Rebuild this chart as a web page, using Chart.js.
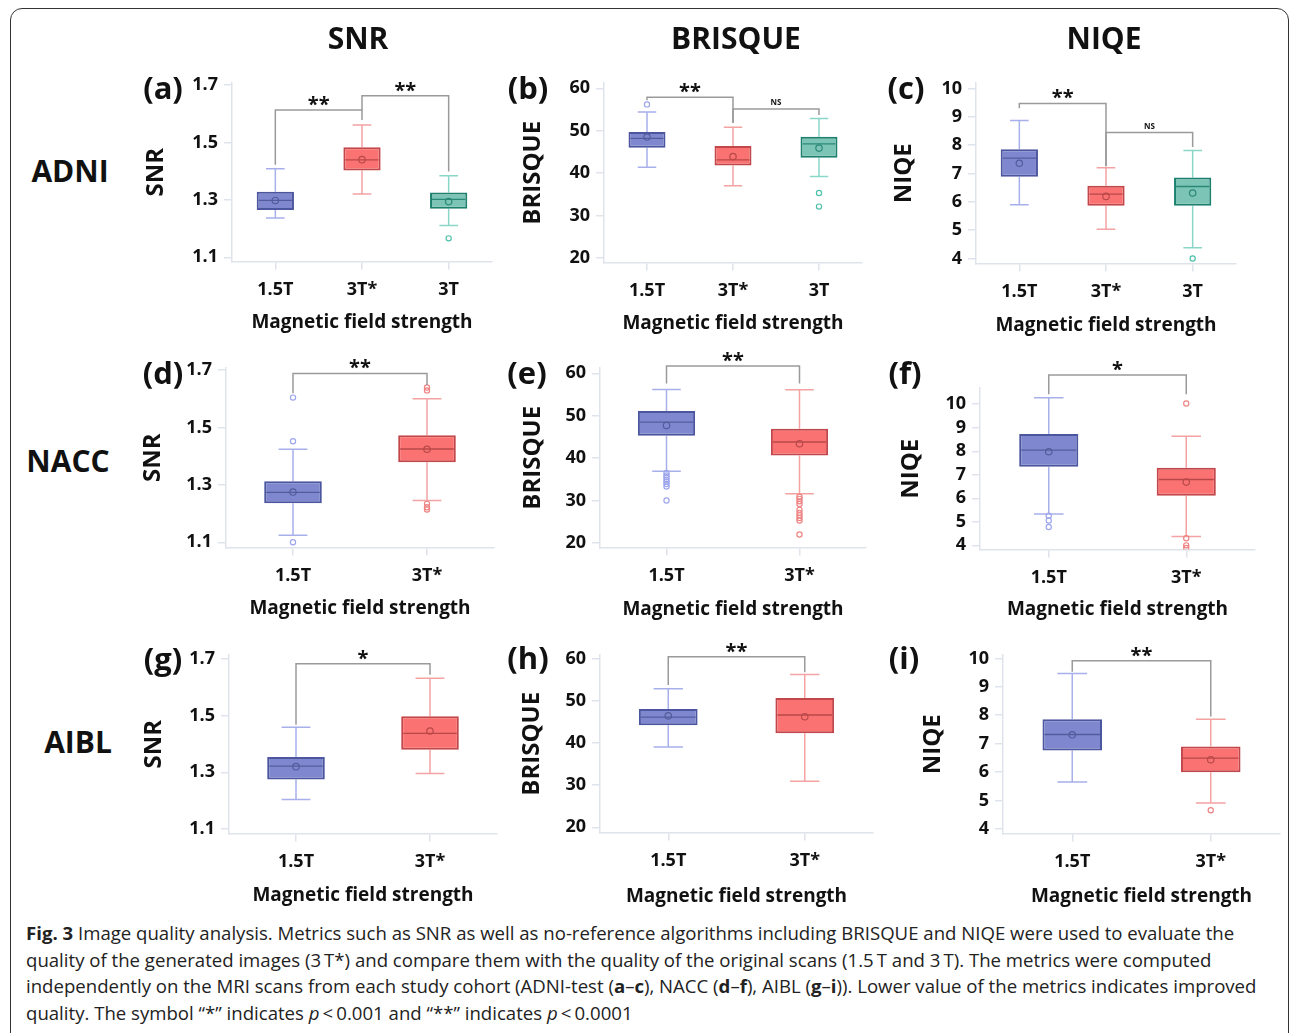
<!DOCTYPE html>
<html lang="en">
<head>
<meta charset="UTF-8">
<title>Fig. 3 Image quality analysis</title>
<script src="https://cdn.jsdelivr.net/npm/chart.js"></script>
<style>
    body { margin: 0; background: #fff; font-family: "Open Sans", Arial, sans-serif; }
    #fig { position: relative; width: 1292px; height: 1033px; overflow: hidden; }
    #frame {
        position: absolute; left: 10px; top: 8px; width: 1279px; height: 1040px;
        border: 1.5px solid #333; border-radius: 12px; box-sizing: border-box;
    }
    .lbl {
        position: absolute; font-weight: 700; color: #111; white-space: nowrap;
        transform: translate(-50%, -50%); line-height: 1; z-index: 2;
    }
    .head { font-size: 30px; }
    .letter { font-size: 31px; }
    canvas { position: absolute; }
    #caption {
        position: absolute; left: 26px; top: 920px; font-size: 18.6px; line-height: 26.7px;
        color: #222; white-space: nowrap;
    }
</style>
</head>
<body>
<div id="fig">
    <div id="frame"></div>
    <div id="caption">
        <b>Fig. 3</b> Image quality analysis. Metrics such as SNR as well as no-reference algorithms including BRISQUE and NIQE were used to evaluate the<br>
        quality of the generated images (3&#8201;T*) and compare them with the quality of the original scans (1.5&#8201;T and 3&#8201;T). The metrics were computed<br>
        independently on the MRI scans from each study cohort (ADNI-test (<b>a</b>–<b>c</b>), NACC (<b>d</b>–<b>f</b>), AIBL (<b>g</b>–<b>i</b>)). Lower value of the metrics indicates improved<br>
        quality. The symbol “*” indicates <i>p</i>&#8201;&lt;&#8201;0.001 and “**” indicates <i>p</i>&#8201;&lt;&#8201;0.0001
    </div>
</div>

<script>
    // categories and tick labels
    const cats3 = ['1.5T', '3T*', '3T'];
    const cats2 = ['1.5T', '3T*'];
    const snrTicks = [1.1, 1.3, 1.5, 1.7];
    const brisqueTicks = [20, 30, 40, 50, 60];
    const niqeTicks = [4, 5, 6, 7, 8, 9, 10];

    // box stats per category: [lower whisker, Q1, median, Q3, upper whisker]
    const aBox = [[1.237, 1.265, 1.298, 1.328, 1.408], [1.320, 1.402, 1.439, 1.483, 1.561], [1.211, 1.269, 1.302, 1.326, 1.384]];
    const aMean = [1.298, 1.440, 1.294];
    const aOut = [[], [], [1.166]];
    const aSig = [[0, 1, 1.613, 1.422, 1.578, '**'], [1, 2, 1.663, 1.613, 1.399, '**']];

    const bBox = [[41.4, 46.0, 48.2, 49.7, 54.4], [37.0, 41.8, 43.1, 46.4, 50.8], [39.2, 43.6, 46.9, 48.6, 52.9]];
    const bMean = [48.5, 43.9, 45.9];
    const bOut = [[56.2], [], [35.3, 32.1]];
    const bSig = [[0, 1, 57.9, 57.2, 51.8, '**'], [1, 2, 55.1, 51.8, 53.7, 'NS']];

    const cBox = [[5.90, 6.88, 7.54, 7.85, 8.87], [5.03, 5.86, 6.27, 6.57, 7.20], [4.38, 5.86, 6.54, 6.86, 7.81]];
    const cMean = [7.36, 6.19, 6.31];
    const cOut = [[], [], [4.0]];
    const cSig = [[0, 1, 9.47, 9.30, 7.25, '**'], [1, 2, 8.44, 7.25, 7.93, 'NS']];

    const dBox = [[1.125, 1.236, 1.274, 1.313, 1.424], [1.246, 1.379, 1.425, 1.473, 1.600]];
    const dMean = [1.275, 1.424];
    const dOut = [[1.604, 1.452, 1.100], [1.639, 1.629, 1.234, 1.222, 1.214]];
    const dSig = [[0, 1, 1.688, 1.619, 1.648, '**']];

    const eBox = [[36.9, 45.3, 48.5, 51.1, 56.2], [31.6, 40.6, 43.8, 46.9, 56.1]];
    const eMean = [47.7, 43.4];
    const eOut = [[36.5, 35.9, 35.5, 34.9, 34.4, 33.9, 33.3, 30.0], [30.9, 30.4, 29.8, 29.2, 27.8, 27.1, 26.5, 25.9, 25.3, 22.0]];
    const eSig = [[0, 1, 61.7, 57.6, 57.6, '**']];

    const fBox = [[5.33, 7.34, 8.05, 8.73, 10.28], [4.38, 6.11, 6.80, 7.30, 8.64]];
    const fMean = [7.98, 6.69];
    const fOut = [[5.26, 5.06, 4.78], [10.03, 4.30, 4.0, 3.89]];
    const fSig = [[0, 1, 11.24, 10.42, 10.42, '*']];

    const gBox = [[1.204, 1.274, 1.322, 1.354, 1.459], [1.296, 1.380, 1.438, 1.498, 1.633]];
    const gMean = [1.320, 1.446];
    const gOut = [[], []];
    const gSig = [[0, 1, 1.684, 1.468, 1.645, '*']];

    const hBox = [[39.0, 44.2, 46.1, 48.0, 52.8], [30.9, 42.3, 46.6, 50.6, 56.2]];
    const hMean = [46.4, 46.2];
    const hOut = [[], []];
    const hSig = [[0, 1, 60.4, 53.7, 56.7, '**']];

    const iBox = [[5.65, 6.76, 7.32, 7.86, 9.47], [4.91, 5.99, 6.49, 6.90, 7.86]];
    const iMean = [7.31, 6.43];
    const iOut = [[], [4.65]];
    const iSig = [[0, 1, 9.92, 9.53, 7.95, '**']];

    const palette = [
        { fill: '#7f88cf', border: '#4b569e', whisker: '#a8b0ec', median: '#525c9c', out: '#9ea6ec' },
        { fill: '#fa7272', border: '#c2474a', whisker: '#f4a2a2', median: '#b94848', out: '#ee8484' },
        { fill: '#7cc4b5', border: '#1d7f6e', whisker: '#8ad6c8', median: '#2a8878', out: '#4fc0aa' }
    ];
    const axisCol = '#dfe4ec';
    const ink = '#111';

    // layout: plot rect [left, top, right, bottom], y title centre x, x title centre y
    const panels = [
        { letter: '(a)', lp: [163, 87], cats: cats3, box: aBox, mean: aMean, out: aOut, sig: aSig, ticks: snrTicks, dp: 1, min: 1.085, max: 1.707, title: 'SNR', plot: [232, 83, 492, 262], tx: 155, ty: 323 },
        { letter: '(b)', lp: [528, 87], cats: cats3, box: bBox, mean: bMean, out: bOut, sig: bSig, ticks: brisqueTicks, dp: 0, min: 18.9, max: 61.25, title: 'BRISQUE', plot: [604, 83, 862, 263], tx: 532, ty: 324 },
        { letter: '(c)', lp: [906, 87], cats: cats3, box: cBox, mean: cMean, out: cOut, sig: cSig, ticks: niqeTicks, dp: 0, min: 3.82, max: 10.19, title: 'NIQE', plot: [976, 83, 1236, 264], tx: 903, ty: 326 },
        { letter: '(d)', lp: [163, 372], cats: cats2, box: dBox, mean: dMean, out: dOut, sig: dSig, ticks: snrTicks, dp: 1, min: 1.0816, max: 1.707, title: 'SNR', plot: [226, 368, 494, 548], tx: 152, ty: 609 },
        { letter: '(e)', lp: [527, 372], cats: cats2, box: eBox, mean: eMean, out: eOut, sig: eSig, ticks: brisqueTicks, dp: 0, min: 18.9, max: 61.25, title: 'BRISQUE', plot: [600, 368, 866, 548], tx: 532, ty: 610 },
        { letter: '(f)', lp: [905, 372], cats: cats2, box: fBox, mean: fMean, out: fOut, sig: fSig, ticks: niqeTicks, dp: 0, min: 3.82, max: 10.69, title: 'NIQE', plot: [980, 388, 1255, 550], tx: 910, ty: 610 },
        { letter: '(g)', lp: [163, 658], cats: cats2, box: gBox, mean: gMean, out: gOut, sig: gSig, ticks: snrTicks, dp: 1, min: 1.083, max: 1.715, title: 'SNR', plot: [229, 655, 497, 834], tx: 153, ty: 896 },
        { letter: '(h)', lp: [528, 657], cats: cats2, box: hBox, mean: hMean, out: hOut, sig: hSig, ticks: brisqueTicks, dp: 0, min: 18.76, max: 60.8, title: 'BRISQUE', plot: [600, 655, 873, 833], tx: 531, ty: 897 },
        { letter: '(i)', lp: [904, 657], cats: cats2, box: iBox, mean: iMean, out: iOut, sig: iSig, ticks: niqeTicks, dp: 0, min: 3.83, max: 10.12, title: 'NIQE', plot: [1003, 655, 1280, 834], tx: 932, ty: 897 }
    ];

    const fig = document.getElementById('fig');

    function addLabel(text, x, y, cls) {
        const d = document.createElement('div');
        d.className = 'lbl ' + cls;
        d.textContent = text;
        d.style.left = x + 'px';
        d.style.top = y + 'px';
        fig.appendChild(d);
    }

    addLabel('SNR', 358, 38, 'head');
    addLabel('BRISQUE', 736, 38, 'head');
    addLabel('NIQE', 1104, 38, 'head');
    addLabel('ADNI', 70, 171, 'head');
    addLabel('NACC', 68, 461, 'head');
    addLabel('AIBL', 78, 742, 'head');

    // whiskers, medians and significance brackets
    function boxPlugin(p) {
        return {
            id: 'boxplot',
            beforeDatasetsDraw(chart) {
                const ctx = chart.ctx, y = chart.scales.y;
                const meta = chart.getDatasetMeta(2);
                ctx.save();
                ctx.lineWidth = 1.5;
                p.box.forEach((b, i) => {
                    const el = meta.data[i];
                    const cap = el.width / 4;
                    ctx.strokeStyle = palette[i].whisker;
                    ctx.beginPath();
                    ctx.moveTo(el.x, y.getPixelForValue(b[3]));
                    ctx.lineTo(el.x, y.getPixelForValue(b[4]));
                    ctx.moveTo(el.x, y.getPixelForValue(b[1]));
                    ctx.lineTo(el.x, y.getPixelForValue(b[0]));
                    ctx.moveTo(el.x - cap, y.getPixelForValue(b[4]));
                    ctx.lineTo(el.x + cap, y.getPixelForValue(b[4]));
                    ctx.moveTo(el.x - cap, y.getPixelForValue(b[0]));
                    ctx.lineTo(el.x + cap, y.getPixelForValue(b[0]));
                    ctx.stroke();
                });
                ctx.restore();
            },
            afterDatasetDraw(chart, args) {
                if (args.index !== 2) return;
                const ctx = chart.ctx, y = chart.scales.y;
                ctx.save();
                ctx.lineWidth = 1.3;
                p.box.forEach((b, i) => {
                    const el = args.meta.data[i];
                    const py = y.getPixelForValue(b[2]);
                    ctx.strokeStyle = palette[i].median;
                    ctx.beginPath();
                    ctx.moveTo(el.x - el.width / 2 + 2, py);
                    ctx.lineTo(el.x + el.width / 2 - 2, py);
                    ctx.stroke();
                });
                ctx.restore();
            },
            afterDraw(chart) {
                const ctx = chart.ctx, x = chart.scales.x, y = chart.scales.y;
                ctx.save();
                ctx.strokeStyle = '#9a9a9a';
                ctx.lineWidth = 1.5;
                ctx.fillStyle = ink;
                ctx.textAlign = 'center';
                p.sig.forEach(s => {
                    const x1 = x.getPixelForValue(s[0]), x2 = x.getPixelForValue(s[1]);
                    const py = y.getPixelForValue(s[2]);
                    ctx.beginPath();
                    ctx.moveTo(x1, y.getPixelForValue(s[3]));
                    ctx.lineTo(x1, py);
                    ctx.lineTo(x2, py);
                    ctx.lineTo(x2, y.getPixelForValue(s[4]));
                    ctx.stroke();
                    if (s[5] === 'NS') {
                        ctx.font = 'bold 8px "Open Sans"';
                        ctx.fillText('NS', (x1 + x2) / 2, py - 4);
                    } else {
                        ctx.font = 'bold 20px "Open Sans"';
                        ctx.fillText(s[5], (x1 + x2) / 2, py + 1);
                    }
                });
                ctx.restore();
            }
        };
    }

    function makePanel(p) {
        const [L, T, R, B] = p.plot;
        const yW = L - p.tx + 15;
        const xH = p.ty - B + 11.4 + 4;
        const topPad = 70, rightPad = 6;
        const cv = document.createElement('canvas');
        cv.width = yW + (R - L) + rightPad;
        cv.height = topPad + (B - T) + xH;
        cv.style.left = (L - yW) + 'px';
        cv.style.top = (T - topPad) + 'px';
        fig.appendChild(cv);

        addLabel(p.letter, p.lp[0], p.lp[1], 'letter');

        const outPts = [], outCols = [];
        p.out.forEach((arr, i) => arr.forEach(v => {
            outPts.push({ x: p.cats[i], y: v });
            outCols.push(palette[i].out);
        }));

        new Chart(cv, {
            type: 'bar',
            data: {
                labels: p.cats,
                datasets: [
                    {
                        type: 'scatter',
                        data: p.mean.map((v, i) => ({ x: p.cats[i], y: v })),
                        pointRadius: 3.2,
                        pointBorderWidth: 1.2,
                        pointBackgroundColor: 'rgba(0,0,0,0)',
                        pointBorderColor: p.cats.map((c, i) => palette[i].median),
                        order: 1
                    },
                    {
                        type: 'scatter',
                        data: outPts,
                        pointRadius: 2.6,
                        pointBorderWidth: 1.2,
                        pointBackgroundColor: 'rgba(0,0,0,0)',
                        pointBorderColor: outCols,
                        order: 1
                    },
                    {
                        type: 'bar',
                        data: p.box.map(b => [b[1], b[3]]),
                        backgroundColor: p.cats.map((c, i) => palette[i].fill),
                        borderColor: p.cats.map((c, i) => palette[i].border),
                        borderWidth: 2,
                        borderSkipped: false,
                        barPercentage: 0.43,
                        categoryPercentage: 1,
                        order: 2
                    }
                ]
            },
            options: {
                responsive: false,
                animation: false,
                events: [],
                layout: { padding: { top: topPad, right: rightPad, left: 0, bottom: 0 } },
                plugins: { legend: { display: false }, tooltip: { enabled: false } },
                scales: {
                    x: {
                        offset: true,
                        grid: { offset: false, drawOnChartArea: false, tickLength: 8, color: axisCol, lineWidth: 1.5 },
                        border: { color: axisCol, width: 1.5 },
                        ticks: { font: { family: 'Open Sans', size: 18, weight: 'bold' }, color: ink, padding: 9 },
                        title: {
                            display: true, text: 'Magnetic field strength', color: ink,
                            font: { family: 'Open Sans', size: 19, weight: 'bold' }, padding: { top: 0, bottom: 4 }
                        },
                        afterFit: s => { s.height = xH; }
                    },
                    y: {
                        min: p.min,
                        max: p.max,
                        afterBuildTicks: s => { s.ticks = p.ticks.map(v => ({ value: v })); },
                        grid: { drawOnChartArea: false, tickLength: 8, color: axisCol, lineWidth: 1.5 },
                        border: { color: axisCol, width: 1.5 },
                        ticks: {
                            font: { family: 'Open Sans', size: 18, weight: 'bold' }, color: ink, padding: 6,
                            callback: v => v.toFixed(p.dp)
                        },
                        title: {
                            display: true, text: p.title, color: ink,
                            font: { family: 'Open Sans', size: 24, weight: 'bold' }, padding: { top: 2, bottom: 0 }
                        },
                        afterFit: s => { s.width = yW; }
                    }
                }
            },
            plugins: [boxPlugin(p)]
        });
    }

    panels.forEach(makePanel);
</script>
</body>
</html>
